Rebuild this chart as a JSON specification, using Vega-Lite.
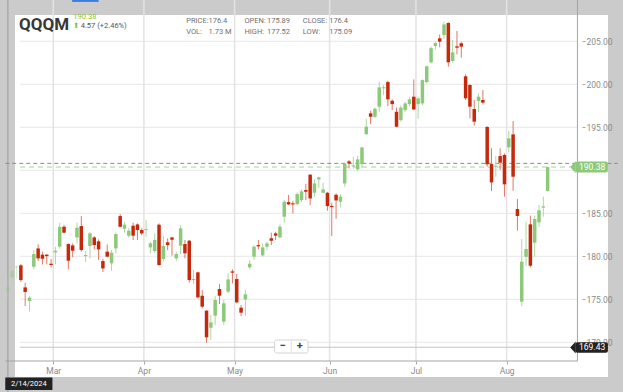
{
  "$schema": "https://vega.github.io/schema/vega-lite/v6.json",
  "width": 593,
  "height": 362,
  "autosize": {"type": "none"},
  "padding": {"left": 15, "top": 15, "right": 15, "bottom": 15},
  "background": "#cbcbcb",
  "config": {
    "font": "Roboto",
    "view": {"fill": "white", "stroke": null}
  },
  "datasets": {
    "candles": [
      {"i":0,"open":175.89,"high":177.52,"low":175.09,"close":176.4},
      {"i":1,"open":177.55,"high":178.71,"low":176.54,"close":178.33},
      {"i":2,"open":178.71,"high":178.99,"low":177.44,"close":178.83},
      {"i":3,"open":178.95,"high":179.1,"low":177.05,"close":177.24},
      {"i":4,"open":176.39,"high":176.93,"low":174.22,"close":175.85},
      {"i":5,"open":174.8,"high":175.38,"low":173.56,"close":175.19},
      {"i":6,"open":178.79,"high":180.73,"low":178.48,"close":180.27},
      {"i":7,"open":180.92,"high":181.39,"low":179.45,"close":179.76},
      {"i":8,"open":180.19,"high":180.54,"low":179.06,"close":179.72},
      {"i":9,"open":180.19,"high":180.27,"low":179.06,"close":180.03},
      {"i":10,"open":179.14,"high":179.68,"low":178.71,"close":178.99},
      {"i":11,"open":180.46,"high":181.12,"low":179.06,"close":180.65},
      {"i":12,"open":181.12,"high":183.91,"low":180.92,"close":183.44},
      {"i":13,"open":183.44,"high":183.64,"low":182.7,"close":182.75},
      {"i":14,"open":181.43,"high":181.51,"low":178.48,"close":179.49},
      {"i":15,"open":181.27,"high":181.51,"low":179.88,"close":180.65},
      {"i":16,"open":182.2,"high":183.91,"low":181.51,"close":183.33},
      {"i":17,"open":183.52,"high":184.68,"low":180.54,"close":180.73},
      {"i":18,"open":180.03,"high":180.65,"low":179.33,"close":180.15},
      {"i":19,"open":181.2,"high":182.86,"low":179.76,"close":182.67},
      {"i":20,"open":182.2,"high":182.36,"low":180.81,"close":181.31},
      {"i":21,"open":181.74,"high":181.97,"low":179.57,"close":180.81},
      {"i":22,"open":179.45,"high":179.72,"low":178.17,"close":178.6},
      {"i":23,"open":180.54,"high":181.39,"low":179.88,"close":179.96},
      {"i":24,"open":179.18,"high":180.73,"low":178.33,"close":180.42},
      {"i":25,"open":180.92,"high":182.75,"low":180.34,"close":182.59},
      {"i":26,"open":184.68,"high":184.92,"low":183.37,"close":183.44},
      {"i":27,"open":183.21,"high":183.99,"low":182.75,"close":183.68},
      {"i":28,"open":182.4,"high":183.33,"low":182.2,"close":182.98},
      {"i":29,"open":183.56,"high":183.91,"low":181.89,"close":182.4},
      {"i":30,"open":183.71,"high":183.83,"low":181.89,"close":183.06},
      {"i":31,"open":183.06,"high":183.25,"low":182.47,"close":182.67},
      {"i":32,"open":183.06,"high":184.22,"low":182.28,"close":183.17},
      {"i":33,"open":181.04,"high":181.7,"low":180.35,"close":181.51},
      {"i":34,"open":180.62,"high":182.67,"low":180.35,"close":181.9},
      {"i":35,"open":183.68,"high":183.83,"low":178.87,"close":178.99},
      {"i":36,"open":179.69,"high":182.36,"low":179.38,"close":181.2},
      {"i":37,"open":181.63,"high":182.09,"low":180.73,"close":181.31},
      {"i":38,"open":182.2,"high":182.28,"low":180.07,"close":181.93},
      {"i":39,"open":179.76,"high":180.54,"low":179.49,"close":180.27},
      {"i":40,"open":181.24,"high":183.64,"low":180.27,"close":183.25},
      {"i":41,"open":181.43,"high":181.9,"low":179.76,"close":180.35},
      {"i":42,"open":181.82,"high":181.9,"low":176.93,"close":177.24},
      {"i":43,"open":177.24,"high":178.41,"low":176.78,"close":177.36},
      {"i":44,"open":178.14,"high":178.21,"low":175.11,"close":175.23},
      {"i":45,"open":175.42,"high":176.08,"low":173.95,"close":174.15},
      {"i":46,"open":173.68,"high":173.76,"low":169.96,"close":170.58},
      {"i":47,"open":171.7,"high":173.17,"low":170.27,"close":172.32},
      {"i":48,"open":173.1,"high":175.38,"low":172.01,"close":174.92},
      {"i":49,"open":176.2,"high":176.78,"low":174.45,"close":175.42},
      {"i":50,"open":172.4,"high":174.92,"low":172.01,"close":174.53},
      {"i":51,"open":175.89,"high":178.02,"low":175.69,"close":177.32},
      {"i":52,"open":178.25,"high":178.49,"low":176.86,"close":178.1},
      {"i":53,"open":177.36,"high":177.94,"low":174.53,"close":174.65},
      {"i":54,"open":174.03,"high":174.34,"low":173.06,"close":173.45},
      {"i":55,"open":174.99,"high":176.08,"low":173.06,"close":175.58},
      {"i":56,"open":178.72,"high":179.57,"low":178.49,"close":179.14},
      {"i":57,"open":179.96,"high":181.31,"low":179.57,"close":181.12},
      {"i":58,"open":181.31,"high":181.9,"low":180.81,"close":181.16},
      {"i":59,"open":180.11,"high":181.51,"low":179.96,"close":181.04},
      {"i":60,"open":181.12,"high":181.7,"low":180.73,"close":181.51},
      {"i":61,"open":182.09,"high":182.75,"low":181.31,"close":181.82},
      {"i":62,"open":182.67,"high":182.86,"low":181.9,"close":182.4},
      {"i":63,"open":182.2,"high":183.72,"low":182.09,"close":183.45},
      {"i":64,"open":184.61,"high":186.55,"low":183.91,"close":186.35},
      {"i":65,"open":186.31,"high":187.13,"low":185.97,"close":186.04},
      {"i":66,"open":186.17,"high":186.42,"low":184.99,"close":186.04},
      {"i":67,"open":186.07,"high":187.43,"low":185.92,"close":187.24},
      {"i":68,"open":186.54,"high":187.78,"low":186.31,"close":187.55},
      {"i":69,"open":187.71,"high":188.4,"low":186.54,"close":187.51},
      {"i":70,"open":189.49,"high":189.56,"low":185.96,"close":186.73},
      {"i":71,"open":187.39,"high":188.94,"low":186.93,"close":188.48},
      {"i":72,"open":188.94,"high":189.25,"low":187.97,"close":189.18},
      {"i":73,"open":187.39,"high":188.56,"low":187.32,"close":187.78},
      {"i":74,"open":187.39,"high":187.5,"low":185.3,"close":185.84},
      {"i":75,"open":185.86,"high":186.23,"low":182.35,"close":185.72},
      {"i":76,"open":187.16,"high":187.32,"low":184.37,"close":186.5},
      {"i":77,"open":186.35,"high":187.24,"low":185.69,"close":186.93},
      {"i":78,"open":188.48,"high":190.88,"low":188.09,"close":190.8},
      {"i":79,"open":191.04,"high":191.19,"low":190.22,"close":190.8},
      {"i":80,"open":190.46,"high":191.58,"low":190.18,"close":190.58},
      {"i":81,"open":190.11,"high":191.66,"low":189.95,"close":191.27},
      {"i":82,"open":190.73,"high":192.74,"low":190.22,"close":192.66},
      {"i":83,"open":194.21,"high":195.99,"low":194.1,"close":195.07},
      {"i":84,"open":196.62,"high":196.93,"low":195.38,"close":196.23},
      {"i":85,"open":196.23,"high":197.31,"low":196.07,"close":197.16},
      {"i":86,"open":197.39,"high":200.3,"low":196.81,"close":199.64},
      {"i":87,"open":199.53,"high":199.91,"low":198.75,"close":199.66},
      {"i":88,"open":200.26,"high":200.42,"low":197.47,"close":198.25},
      {"i":89,"open":198.09,"high":198.25,"low":197.0,"close":197.7},
      {"i":90,"open":196.81,"high":197.31,"low":195.0,"close":195.07},
      {"i":91,"open":195.84,"high":197.55,"low":195.65,"close":197.31},
      {"i":92,"open":197.0,"high":197.97,"low":196.81,"close":197.78},
      {"i":93,"open":197.7,"high":198.48,"low":197.47,"close":198.25},
      {"i":94,"open":198.56,"high":200.57,"low":197.0,"close":197.08},
      {"i":95,"open":197.7,"high":198.56,"low":196.0,"close":198.36},
      {"i":96,"open":197.78,"high":200.57,"low":197.59,"close":200.49},
      {"i":97,"open":200.25,"high":202.16,"low":200.11,"close":202.1},
      {"i":98,"open":202.55,"high":204.38,"low":202.4,"close":204.2},
      {"i":99,"open":204.46,"high":204.96,"low":204.03,"close":204.8},
      {"i":100,"open":205.35,"high":205.81,"low":204.3,"close":204.96},
      {"i":101,"open":205.73,"high":207.28,"low":205.27,"close":206.97},
      {"i":102,"open":207.13,"high":207.21,"low":202.05,"close":202.56},
      {"i":103,"open":202.71,"high":205.15,"low":202.56,"close":203.72},
      {"i":104,"open":204.42,"high":206.2,"low":203.49,"close":204.26},
      {"i":105,"open":204.77,"high":204.96,"low":203.1,"close":204.38},
      {"i":106,"open":200.93,"high":201.16,"low":198.18,"close":198.37},
      {"i":107,"open":199.92,"high":200.0,"low":196.04,"close":197.4},
      {"i":108,"open":197.13,"high":198.18,"low":195.19,"close":195.66},
      {"i":109,"open":198.06,"high":198.95,"low":196.74,"close":198.56},
      {"i":110,"open":198.18,"high":199.34,"low":197.67,"close":197.87},
      {"i":111,"open":195.04,"high":195.15,"low":190.42,"close":190.7},
      {"i":112,"open":190.73,"high":192.56,"low":187.6,"close":188.6},
      {"i":113,"open":190.42,"high":191.7,"low":189.26,"close":190.54},
      {"i":114,"open":191.66,"high":192.56,"low":190.04,"close":190.89},
      {"i":115,"open":191.78,"high":191.97,"low":186.94,"close":188.37},
      {"i":116,"open":192.67,"high":194.57,"low":192.09,"close":193.72},
      {"i":117,"open":194.18,"high":195.73,"low":187.63,"close":189.26},
      {"i":118,"open":185.5,"high":186.66,"low":182.98,"close":184.69},
      {"i":119,"open":174.73,"high":182.01,"low":174.22,"close":179.38},
      {"i":120,"open":179.96,"high":184.03,"low":178.91,"close":180.85},
      {"i":121,"open":183.72,"high":184.73,"low":178.72,"close":178.91},
      {"i":122,"open":181.59,"high":184.73,"low":179.96,"close":184.34},
      {"i":123,"open":183.95,"high":185.97,"low":183.41,"close":185.35},
      {"i":124,"open":185.66,"high":186.94,"low":184.61,"close":185.81},
      {"i":125,"open":187.6,"high":190.42,"low":187.52,"close":190.38}
    ]
  },
  "layer": [
    {
      "data": {"values": [{"p":170},{"p":175},{"p":180},{"p":185},{"p":190},{"p":195},{"p":200},{"p":205}]},
      "mark": {"type": "rule", "color": "#ececec", "strokeWidth": 1.2},
      "encoding": {
        "y": {"field": "p", "type": "quantitative", "scale": {"domain": [165.97, 208.06], "nice": false, "zero": false},
          "axis": {"orient": "right", "values": [170,175,180,185,195,200,205], "format": ".2f", "grid": false, "domain": false, "tickSize": 3, "tickColor": "#a8a8a8", "labelColor": "#8a8a8a", "labelFontSize": 8.5, "labelPadding": 1, "offset": -26, "title": null}},
        "x": {"datum": 2.8, "type": "quantitative", "scale": {"domain": [2.8, 137.82], "nice": false, "zero": false}},
        "x2": {"datum": 131.9}
      }
    },
    {
      "data": {"values": [{"m":"Mar","pos":10.5},{"m":"Apr","pos":31.5},{"m":"May","pos":52.5},{"m":"Jun","pos":74.5},{"m":"Jul","pos":94.5},{"m":"Aug","pos":115.5}]},
      "mark": {"type": "rule", "color": "#e3e3e3", "strokeWidth": 1.5},
      "encoding": {
        "x": {"field": "pos", "type": "quantitative", "scale": {"domain": [2.8, 137.82], "nice": false, "zero": false},
          "axis": {"values": [10.5,31.5,52.5,74.5,94.5,115.5], "labelExpr": "datum.value < 20 ? 'Mar' : datum.value < 40 ? 'Apr' : datum.value < 60 ? 'May' : datum.value < 85 ? 'Jun' : datum.value < 100 ? 'Jul' : 'Aug'", "grid": false, "domain": false, "tickSize": 3, "tickColor": "#a8a8a8", "labelColor": "#8a8a8a", "labelFontSize": 8.5, "labelPadding": 2, "offset": -16, "title": null, "labelOverlap": false, "labelFlush": false}},
        "y": {"datum": 209.8, "type": "quantitative", "scale": {"domain": [165.97, 208.06], "nice": false, "zero": false}},
        "y2": {"datum": 167.83}
      }
    },
    {
      "data": {"values": [{}]},
      "mark": {"type": "rule", "color": "#a4a4a4", "strokeWidth": 1},
      "encoding": {"y": {"datum": 167.83, "type": "quantitative", "scale": {"domain": [165.97, 208.06], "nice": false, "zero": false}}, "x": {"datum": -0.615, "type": "quantitative", "scale": {"domain": [2.8, 137.82], "nice": false, "zero": false}}, "x2": {"datum": 131.9}}
    },
    {
      "data": {"values": [{}]},
      "mark": {"type": "rule", "color": "#a4a4a4", "strokeWidth": 1},
      "encoding": {"x": {"datum": 131.9, "type": "quantitative", "scale": {"domain": [2.8, 137.82], "nice": false, "zero": false}}, "y": {"datum": 209.8, "type": "quantitative", "scale": {"domain": [165.97, 208.06], "nice": false, "zero": false}}, "y2": {"datum": 167.83}}
    },
    {
      "data": {"values": [{}]},
      "mark": {"type": "rule", "color": "#9a9a9a", "strokeWidth": 1},
      "encoding": {"x": {"datum": 0, "type": "quantitative", "scale": {"domain": [2.8, 137.82], "nice": false, "zero": false}}, "y": {"datum": 209.8, "type": "quantitative", "scale": {"domain": [165.97, 208.06], "nice": false, "zero": false}}, "y2": {"datum": 164.2}}
    },
    {
      "data": {"values": [{}]},
      "mark": {"type": "rule", "color": "#c4c4c4", "strokeWidth": 1},
      "encoding": {"y": {"datum": 169.43, "type": "quantitative", "scale": {"domain": [165.97, 208.06], "nice": false, "zero": false}}, "x": {"datum": 2.8, "type": "quantitative", "scale": {"domain": [2.8, 137.82], "nice": false, "zero": false}}, "x2": {"datum": 130.3}}
    },
    {
      "data": {"values": [{}]},
      "mark": {"type": "rule", "color": "#8c8c8c", "strokeWidth": 1, "strokeDash": [4, 3]},
      "encoding": {"y": {"datum": 190.81, "type": "quantitative", "scale": {"domain": [165.97, 208.06], "nice": false, "zero": false}}, "x": {"datum": -0.615, "type": "quantitative", "scale": {"domain": [2.8, 137.82], "nice": false, "zero": false}}, "x2": {"datum": 141.23}}
    },
    {
      "data": {"values": [{}]},
      "mark": {"type": "rule", "color": "#a4d596", "strokeWidth": 1, "strokeDash": [5, 4]},
      "encoding": {"y": {"datum": 190.38, "type": "quantitative", "scale": {"domain": [165.97, 208.06], "nice": false, "zero": false}}, "x": {"datum": 2.8, "type": "quantitative", "scale": {"domain": [2.8, 137.82], "nice": false, "zero": false}}, "x2": {"datum": 130.3}}
    },
    {
      "data": {"name": "candles"},
      "mark": {"type": "rule", "strokeWidth": 1},
      "encoding": {
        "x": {"field": "i", "type": "quantitative", "scale": {"domain": [2.8, 137.82], "nice": false, "zero": false}},
        "y": {"field": "low", "type": "quantitative", "scale": {"domain": [165.97, 208.06], "nice": false, "zero": false}},
        "y2": {"field": "high"},
        "color": {"condition": {"test": "datum.close >= datum.open", "value": "#acd89f"}, "value": "#de7a64"},
        "opacity": {"condition": {"test": "datum.i < 3", "value": 0.45}, "value": 1}
      }
    },
    {
      "data": {"name": "candles"},
      "mark": {"type": "bar", "width": 3.5},
      "encoding": {
        "x": {"field": "i", "type": "quantitative", "scale": {"domain": [2.8, 137.82], "nice": false, "zero": false}},
        "y": {"field": "open", "type": "quantitative", "scale": {"domain": [165.97, 208.06], "nice": false, "zero": false}},
        "y2": {"field": "close"},
        "color": {"condition": {"test": "datum.close >= datum.open", "value": "#8cc97a"}, "value": "#c4290c"},
        "opacity": {"condition": {"test": "datum.i < 3", "value": 0.45}, "value": 1}
      }
    },
    {
      "data": {"values": [{}]},
      "mark": {"type": "rect", "color": "#8cc97a", "cornerRadius": 2},
      "encoding": {"x": {"datum": 131.44, "type": "quantitative", "scale": {"domain": [2.8, 137.82], "nice": false, "zero": false}}, "x2": {"datum": 138.96}, "y": {"datum": 191.02, "type": "quantitative", "scale": {"domain": [165.97, 208.06], "nice": false, "zero": false}}, "y2": {"datum": 189.74}}
    },
    {
      "data": {"values": [{}]},
      "mark": {"type": "point", "shape": "M0,-1L-0.9,0L0,1Z", "filled": true, "size": 150, "color": "#8cc97a", "opacity": 1},
      "encoding": {"x": {"datum": 131.5, "type": "quantitative", "scale": {"domain": [2.8, 137.82], "nice": false, "zero": false}}, "y": {"datum": 190.38, "type": "quantitative", "scale": {"domain": [165.97, 208.06], "nice": false, "zero": false}}}
    },
    {
      "data": {"values": [{}]},
      "mark": {"type": "text", "text": "190.38", "color": "white", "fontSize": 8.5, "align": "center", "baseline": "middle"},
      "encoding": {"x": {"datum": 135.3, "type": "quantitative", "scale": {"domain": [2.8, 137.82], "nice": false, "zero": false}}, "y": {"datum": 190.38, "type": "quantitative", "scale": {"domain": [165.97, 208.06], "nice": false, "zero": false}}}
    },
    {
      "data": {"values": [{}]},
      "mark": {"type": "rect", "color": "#222222", "cornerRadius": 2},
      "encoding": {"x": {"datum": 131.44, "type": "quantitative", "scale": {"domain": [2.8, 137.82], "nice": false, "zero": false}}, "x2": {"datum": 138.96}, "y": {"datum": 170.02, "type": "quantitative", "scale": {"domain": [165.97, 208.06], "nice": false, "zero": false}}, "y2": {"datum": 168.78}}
    },
    {
      "data": {"values": [{}]},
      "mark": {"type": "point", "shape": "M0,-1L-0.9,0L0,1Z", "filled": true, "size": 150, "color": "#222222", "opacity": 1},
      "encoding": {"x": {"datum": 131.5, "type": "quantitative", "scale": {"domain": [2.8, 137.82], "nice": false, "zero": false}}, "y": {"datum": 169.4, "type": "quantitative", "scale": {"domain": [165.97, 208.06], "nice": false, "zero": false}}}
    },
    {
      "data": {"values": [{}]},
      "mark": {"type": "text", "text": "169.43", "color": "white", "fontSize": 8.5, "align": "center", "baseline": "middle"},
      "encoding": {"x": {"datum": 135.3, "type": "quantitative", "scale": {"domain": [2.8, 137.82], "nice": false, "zero": false}}, "y": {"datum": 169.4, "type": "quantitative", "scale": {"domain": [165.97, 208.06], "nice": false, "zero": false}}}
    },
    {
      "data": {"values": [{}]},
      "mark": {"type": "rect", "color": "#222222"},
      "encoding": {"x": {"datum": -0.615, "type": "quantitative", "scale": {"domain": [2.8, 137.82], "nice": false, "zero": false}}, "x2": {"datum": 10.31}, "y": {"datum": 165.91, "type": "quantitative", "scale": {"domain": [165.97, 208.06], "nice": false, "zero": false}}, "y2": {"datum": 164.45}}
    },
    {
      "data": {"values": [{}]},
      "mark": {"type": "text", "text": "2/14/2024", "color": "white", "fontSize": 7.5, "align": "center", "baseline": "middle"},
      "encoding": {"x": {"datum": 4.85, "type": "quantitative", "scale": {"domain": [2.8, 137.82], "nice": false, "zero": false}}, "y": {"datum": 165.18, "type": "quantitative", "scale": {"domain": [165.97, 208.06], "nice": false, "zero": false}}}
    },
    {
      "data": {"values": [{}]},
      "mark": {"type": "rect", "fill": "white", "stroke": "#d4d4d4", "strokeWidth": 1, "cornerRadius": 2},
      "encoding": {"x": {"datum": 61.77, "type": "quantitative", "scale": {"domain": [2.8, 137.82], "nice": false, "zero": false}}, "x2": {"datum": 69.51}, "y": {"datum": 170.27, "type": "quantitative", "scale": {"domain": [165.97, 208.06], "nice": false, "zero": false}}, "y2": {"datum": 168.76}}
    },
    {
      "data": {"values": [{}]},
      "mark": {"type": "rule", "color": "#e2e2e2", "strokeWidth": 1},
      "encoding": {"x": {"datum": 65.64, "type": "quantitative", "scale": {"domain": [2.8, 137.82], "nice": false, "zero": false}}, "y": {"datum": 170.15, "type": "quantitative", "scale": {"domain": [165.97, 208.06], "nice": false, "zero": false}}, "y2": {"datum": 168.88}}
    },
    {
      "data": {"values": [{}]},
      "mark": {"type": "text", "text": "−", "color": "#444444", "fontSize": 11, "fontWeight": "bold", "align": "center", "baseline": "middle"},
      "encoding": {"x": {"datum": 63.6, "type": "quantitative", "scale": {"domain": [2.8, 137.82], "nice": false, "zero": false}}, "y": {"datum": 169.52, "type": "quantitative", "scale": {"domain": [165.97, 208.06], "nice": false, "zero": false}}}
    },
    {
      "data": {"values": [{}]},
      "mark": {"type": "text", "text": "+", "color": "#444444", "fontSize": 11, "fontWeight": "bold", "align": "center", "baseline": "middle"},
      "encoding": {"x": {"datum": 67.58, "type": "quantitative", "scale": {"domain": [2.8, 137.82], "nice": false, "zero": false}}, "y": {"datum": 169.52, "type": "quantitative", "scale": {"domain": [165.97, 208.06], "nice": false, "zero": false}}}
    },
    {
      "data": {"values": [{}]},
      "mark": {"type": "rule", "color": "#3b7ddd", "strokeWidth": 2},
      "encoding": {"y": {"datum": 209.7, "type": "quantitative", "scale": {"domain": [165.97, 208.06], "nice": false, "zero": false}}, "x": {"datum": 14.87, "type": "quantitative", "scale": {"domain": [2.8, 137.82], "nice": false, "zero": false}}, "x2": {"datum": 21.0}}
    },
    {
      "data": {"values": [{}]},
      "mark": {"type": "text", "text": "QQQM", "color": "#383838", "fontSize": 17, "fontWeight": "bold", "align": "left", "baseline": "alphabetic"},
      "encoding": {"x": {"datum": 2.57, "type": "quantitative", "scale": {"domain": [2.8, 137.82], "nice": false, "zero": false}}, "y": {"datum": 206.31, "type": "quantitative", "scale": {"domain": [165.97, 208.06], "nice": false, "zero": false}}}
    },
    {
      "data": {"values": [{}]},
      "mark": {"type": "text", "text": "190.38", "color": "#86c23c", "fontSize": 7.5, "align": "left", "baseline": "middle"},
      "encoding": {"x": {"datum": 15.16, "type": "quantitative", "scale": {"domain": [2.8, 137.82], "nice": false, "zero": false}}, "y": {"datum": 207.86, "type": "quantitative", "scale": {"domain": [165.97, 208.06], "nice": false, "zero": false}}}
    },
    {
      "data": {"values": [{}]},
      "mark": {"type": "text", "text": "⬆", "font": "DejaVu Sans", "color": "#86c23c", "fontSize": 7.5, "align": "center", "baseline": "middle"},
      "encoding": {"x": {"datum": 15.78, "type": "quantitative", "scale": {"domain": [2.8, 137.82], "nice": false, "zero": false}}, "y": {"datum": 206.74, "type": "quantitative", "scale": {"domain": [165.97, 208.06], "nice": false, "zero": false}}}
    },
    {
      "data": {"values": [{}]},
      "mark": {"type": "text", "text": "4.57 (+2.46%)", "color": "#555555", "fontSize": 7.5, "align": "left", "baseline": "middle"},
      "encoding": {"x": {"datum": 16.85, "type": "quantitative", "scale": {"domain": [2.8, 137.82], "nice": false, "zero": false}}, "y": {"datum": 206.78, "type": "quantitative", "scale": {"domain": [165.97, 208.06], "nice": false, "zero": false}}}
    },
    {
      "data": {"values": [{}]},
      "mark": {"type": "text", "text": ["PRICE:", "VOL:"], "lineHeight": 10.6, "color": "#707070", "fontSize": 7.5, "align": "left", "baseline": "alphabetic"},
      "encoding": {"x": {"datum": 41.28, "type": "quantitative", "scale": {"domain": [2.8, 137.82], "nice": false, "zero": false}}, "y": {"datum": 207.1, "type": "quantitative", "scale": {"domain": [165.97, 208.06], "nice": false, "zero": false}}}
    },
    {
      "data": {"values": [{}]},
      "mark": {"type": "text", "text": ["176.4", "1.73 M"], "lineHeight": 10.6, "color": "#707070", "fontSize": 7.5, "align": "left", "baseline": "alphabetic"},
      "encoding": {"x": {"datum": 46.45, "type": "quantitative", "scale": {"domain": [2.8, 137.82], "nice": false, "zero": false}}, "y": {"datum": 207.1, "type": "quantitative", "scale": {"domain": [165.97, 208.06], "nice": false, "zero": false}}}
    },
    {
      "data": {"values": [{}]},
      "mark": {"type": "text", "text": ["OPEN:", "HIGH:"], "lineHeight": 10.6, "color": "#707070", "fontSize": 7.5, "align": "left", "baseline": "alphabetic"},
      "encoding": {"x": {"datum": 54.78, "type": "quantitative", "scale": {"domain": [2.8, 137.82], "nice": false, "zero": false}}, "y": {"datum": 207.1, "type": "quantitative", "scale": {"domain": [165.97, 208.06], "nice": false, "zero": false}}}
    },
    {
      "data": {"values": [{}]},
      "mark": {"type": "text", "text": ["175.89", "177.52"], "lineHeight": 10.6, "color": "#707070", "fontSize": 7.5, "align": "left", "baseline": "alphabetic"},
      "encoding": {"x": {"datum": 60.0, "type": "quantitative", "scale": {"domain": [2.8, 137.82], "nice": false, "zero": false}}, "y": {"datum": 207.1, "type": "quantitative", "scale": {"domain": [165.97, 208.06], "nice": false, "zero": false}}}
    },
    {
      "data": {"values": [{}]},
      "mark": {"type": "text", "text": ["CLOSE:", "LOW:"], "lineHeight": 10.6, "color": "#707070", "fontSize": 7.5, "align": "left", "baseline": "alphabetic"},
      "encoding": {"x": {"datum": 68.3, "type": "quantitative", "scale": {"domain": [2.8, 137.82], "nice": false, "zero": false}}, "y": {"datum": 207.1, "type": "quantitative", "scale": {"domain": [165.97, 208.06], "nice": false, "zero": false}}}
    },
    {
      "data": {"values": [{}]},
      "mark": {"type": "text", "text": ["176.4", "175.09"], "lineHeight": 10.6, "color": "#707070", "fontSize": 7.5, "align": "left", "baseline": "alphabetic"},
      "encoding": {"x": {"datum": 74.4, "type": "quantitative", "scale": {"domain": [2.8, 137.82], "nice": false, "zero": false}}, "y": {"datum": 207.1, "type": "quantitative", "scale": {"domain": [165.97, 208.06], "nice": false, "zero": false}}}
    }
  ]
}
